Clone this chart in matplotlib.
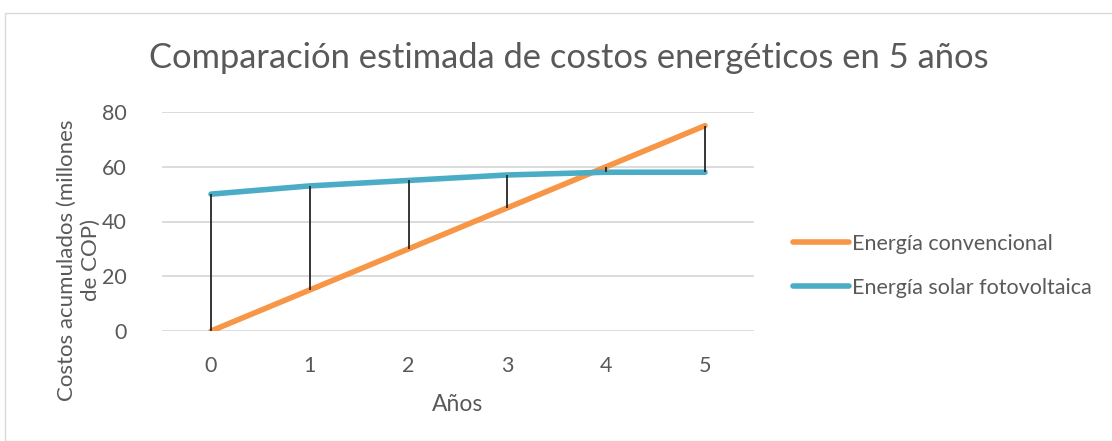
import matplotlib
matplotlib.use("Agg")
import matplotlib.pyplot as plt
from matplotlib.patches import Rectangle

years = [0, 1, 2, 3, 4, 5]
convencional = [0, 15, 30, 45, 60, 75]
solar = [50, 53, 55, 57, 58, 58]
yticks = [0, 20, 40, 60, 80]

FONT = "Lato"
GRAY = "#595959"
ORANGE = "#F79646"
TEAL = "#4BACC6"

W, H = 1112, 441
fig = plt.figure(figsize=(W / 100, H / 100), dpi=100)
fig.patches.append(Rectangle((5 / W, 0), 1.2, 1 - 13 / H, transform=fig.transFigure,
                             fill=False, edgecolor="#D9D9D9", linewidth=1))

x0, x1 = 161.6, 754.4
y0, y1 = 331, 112
ax = fig.add_axes([x0 / W, 1 - y0 / H, (x1 - x0) / W, (y0 - y1) / H])
ax.set_xlim(-0.5, 5.5)
ax.set_ylim(0, 80)

for y in yticks:
    ax.axhline(y, color="#D9D9D9", linewidth=1.3, zorder=0)

ax.vlines(years, convencional, solar, colors="#262626", linewidth=1.3, zorder=3)
ax.plot(years, convencional, color=ORANGE, linewidth=4.0, solid_capstyle="round",
        label="Energía convencional", zorder=2)
ax.plot(years, solar, color=TEAL, linewidth=4.0, solid_capstyle="round",
        label="Energía solar fotovoltaica", zorder=2)

for s in ax.spines.values():
    s.set_visible(False)
ax.set_xticks(years)
ax.set_xticklabels([str(v) for v in years], fontsize=15.5, color=GRAY, family=FONT)
ax.set_yticks(yticks)
ax.set_yticklabels([str(v) for v in yticks], fontsize=15.5, color=GRAY, family=FONT)
ax.tick_params(length=0, pad=25, axis="y")
ax.tick_params(length=0, pad=18, axis="x")

ax.set_xlabel("Años", fontsize=16.5, color=GRAY, family=FONT, labelpad=13)
fig.text(79 / W, 1 - 260 / H, "Costos acumulados (millones\nde COP)", rotation=90,
         ha="center", va="center", fontsize=16, color=GRAY, family=FONT,
         multialignment="center", linespacing=1.25)

fig.text(569 / W, 1 - 58 / H, "Comparación estimada de costos energéticos en 5 años",
         ha="center", va="center", fontsize=24.8, color=GRAY, family=FONT)

leg = fig.legend(loc="upper left", bbox_to_anchor=(793 / W, 1 - 234 / H), frameon=False,
                 prop={"family": FONT, "size": 15.5}, handlelength=2.6, handletextpad=0.15,
                 labelspacing=1.1, borderaxespad=0, borderpad=0)
for t in leg.get_texts():
    t.set_color(GRAY)

fig.savefig("out.png", dpi=100)
